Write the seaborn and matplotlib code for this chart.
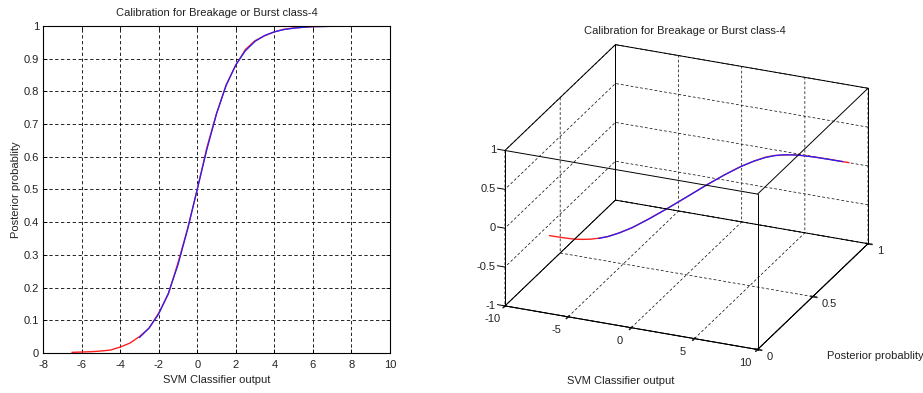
import matplotlib
matplotlib.use("Agg")
import matplotlib.pyplot as plt
import numpy as np
import pandas as pd
import seaborn as sns
from mpl_toolkits.mplot3d import proj3d

# Empirical calibration curve (red) and fitted sigmoid (blue)
svm_out_emp = [-6.5, -6.0, -5.5, -5.0, -4.5, -4.0, -3.5, -3.0, -2.5, -2.0, -1.5, -1.0,
               -0.5, 0.0, 0.5, 1.0, 1.5, 2.0, 2.5, 3.0, 3.5, 4.0, 4.5, 5.0, 5.5, 6.0,
               6.5, 7.0, 7.5, 8.0, 8.5]
prob_emp = [0.002, 0.003, 0.004, 0.006, 0.009, 0.018, 0.030, 0.050, 0.076, 0.122, 0.180,
            0.275, 0.380, 0.500, 0.628, 0.732, 0.820, 0.880, 0.928, 0.955, 0.970, 0.982,
            0.990, 0.994, 0.996, 0.998, 0.999, 1.000, 1.000, 1.000, 1.000]

svm_out_fit = [-3.0, -2.5, -2.0, -1.5, -1.0, -0.5, 0.0, 0.5, 1.0, 1.5, 2.0, 2.5, 3.0,
               3.5, 4.0, 4.5, 5.0, 5.5, 6.0, 6.5, 7.0, 7.5, 8.0]
prob_fit = [0.047, 0.076, 0.119, 0.182, 0.269, 0.378, 0.500, 0.622, 0.731, 0.818, 0.881,
            0.924, 0.953, 0.971, 0.982, 0.989, 0.993, 0.996, 0.998, 0.998, 0.999, 0.999,
            1.000]

title_text = "Calibration for Breakage or Burst class-4"
xlabel_text = "SVM Classifier output"
ylabel_text = "Posterior probablity"

x_ticks_2d = [-8, -6, -4, -2, 0, 2, 4, 6, 8, 10]
y_ticks_2d = [0, 0.1, 0.2, 0.3, 0.4, 0.5, 0.6, 0.7, 0.8, 0.9, 1.0]
y_ticklabels_2d = ["0", "0.1", "0.2", "0.3", "0.4", "0.5", "0.6", "0.7", "0.8", "0.9", "1"]
x_ticks_3d = [-10, -5, 0, 5, 10]
x_ticklabels_3d = ["-10", "-5", "0", "5", "10"]
y_ticks_3d = [0, 0.5, 1]
y_ticklabels_3d = ["0", "0.5", "1"]
z_ticks_3d = [-1, -0.5, 0, 0.5, 1]
z_ticklabels_3d = ["-1", "-0.5", "0", "0.5", "1"]

emp = pd.DataFrame({"svm": svm_out_emp, "prob": prob_emp})
fit = pd.DataFrame({"svm": svm_out_fit, "prob": prob_fit})

sns.set_theme(style="white")
plt.rcParams["font.family"] = ["Liberation Sans", "DejaVu Sans"]
plt.rcParams["axes.unicode_minus"] = False
FS = 8
TXT = "#222222"
GRID_LS = (0, (4, 3))

fig = plt.figure(figsize=(9.23, 3.93), dpi=100)

# ---------------- 2D calibration plot ----------------
ax = fig.add_axes([0.0466, 0.1018, 0.3759, 0.8321])
sns.lineplot(data=emp, x="svm", y="prob", color="#ff2020", lw=1.0, ax=ax, estimator=None,
             sort=False)
sns.lineplot(data=fit, x="svm", y="prob", color="#2020ff", lw=0.9, ax=ax, estimator=None,
             sort=False)
ax.set_xlim(-8, 10)
ax.set_ylim(0, 1)
ax.set_xticks(x_ticks_2d)
ax.set_yticks(y_ticks_2d)
ax.set_yticklabels(y_ticklabels_2d)
ax.tick_params(direction="in", length=3, width=0.6, colors="black", labelsize=FS)
ax.tick_params(axis="x", pad=5, labelcolor=TXT)
ax.tick_params(axis="y", pad=3, labelcolor=TXT)
ax.tick_params(axis="both", which="both", top=True, right=True, bottom=True, left=True)
ax.grid(True, color="black", linestyle=GRID_LS, linewidth=0.6)
for sp in ax.spines.values():
    sp.set_color("black")
    sp.set_linewidth(0.8)
ax.set_title(title_text, fontsize=FS, pad=7, color=TXT)
ax.set_xlabel(xlabel_text, fontsize=FS, labelpad=4, color=TXT)
ax.set_ylabel(ylabel_text, fontsize=FS, labelpad=1.5, color=TXT)

# ---------------- 3D view of the same curve ----------------
ax3 = fig.add_axes([0.483, -0.015, 0.51, 1.0], projection="3d")
ax3.set_proj_type("ortho")
ax3.view_init(elev=24, azim=-67)
ax3.set_box_aspect((1, 1.03, 0.62), zoom=1.06)
ax3.plot(emp["svm"], emp["prob"], np.zeros(len(emp)), color="#ff2020", lw=1.0)
ax3.plot(fit["svm"], fit["prob"], np.zeros(len(fit)), color="#2020ff", lw=0.9)
ax3.set_xlim(-10, 10)
ax3.set_ylim(0, 1)
ax3.set_zlim(-1, 1)
ax3.set_xticks(x_ticks_3d)
ax3.set_yticks(y_ticks_3d)
ax3.set_zticks(z_ticks_3d)
ax3.set_xticklabels([])
ax3.set_yticklabels([])
ax3.set_zticklabels([])
ax3.zaxis.set_ticks_position("lower")
ax3.zaxis._axinfo["tick"]["inward_factor"] = 0.0
ax3.zaxis._axinfo["tick"]["outward_factor"] = 0.0
for axis in (ax3.xaxis, ax3.yaxis, ax3.zaxis):
    axis.set_pane_color((1, 1, 1, 0))
    axis.pane.set_edgecolor((1, 1, 1, 0))
    axis.line.set_color("black")
    axis.line.set_linewidth(0.7)
    axis._axinfo["grid"].update({"color": "black", "linestyle": GRID_LS,
                                 "linewidth": 0.5})
ax3.grid(True)

# full box outline from the axis limits
x0, x1 = ax3.get_xlim()
y0, y1 = ax3.get_ylim()
z0, z1 = ax3.get_zlim()
edge_kw = dict(color="black", lw=0.7)
for yy in (y0, y1):
    for zz in (z0, z1):
        ax3.plot([x0, x1], [yy, yy], [zz, zz], **edge_kw)
for xx in (x0, x1):
    for zz in (z0, z1):
        ax3.plot([xx, xx], [y0, y1], [zz, zz], **edge_kw)
for xx in (x0, x1):
    for yy in (y0, y1):
        ax3.plot([xx, xx], [yy, yy], [z0, z1], **edge_kw)
# short z tick marks pointing away from the box
tick_len = 0.03 * (x1 - x0)
for zv in z_ticks_3d:
    ax3.plot([x0, x0 - tick_len], [y0, y0], [zv, zv], color="black", lw=0.7)
ax3.set_xlim(x0, x1)
ax3.set_ylim(y0, y1)
ax3.set_zlim(z0, z1)

# tick labels placed at the projected tick positions
fig.canvas.draw()
M = ax3.get_proj()
to_fig = fig.transFigure.inverted()


def label3d(xv, yv, zv, text, dx, dy, ha):
    px, py, _ = proj3d.proj_transform(xv, yv, zv, M)
    disp = ax3.transData.transform((px, py)) + np.array([dx, dy])
    fx, fy = to_fig.transform(disp)
    fig.text(fx, fy, text, ha=ha, va="center", fontsize=FS, color=TXT)


for xv, lab in zip(x_ticks_3d, x_ticklabels_3d):
    label3d(xv, y0, z0, lab, -12, -13, "center")
for yv, lab in zip(y_ticks_3d, y_ticklabels_3d):
    label3d(x1, yv, z0, lab, 9, -7, "left")
for zv, lab in zip(z_ticks_3d, z_ticklabels_3d):
    label3d(x0, y0, zv, lab, -9, 0, "right")

fig.text(0.742, 1 - 31 / 393, title_text, ha="center", va="center", fontsize=FS, color=TXT)
fig.text(0.672, 1 - 381 / 393, xlabel_text, ha="center", va="center", fontsize=FS, color=TXT)
fig.text(0.948, 1 - 356 / 393, ylabel_text, ha="center", va="center", fontsize=FS, color=TXT)

fig.savefig("out.png", dpi=100)
